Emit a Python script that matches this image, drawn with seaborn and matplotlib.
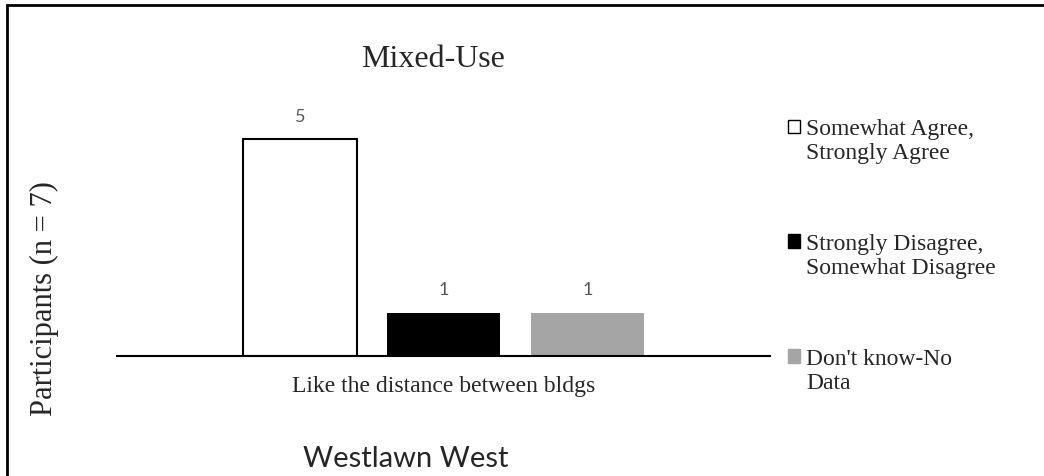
import matplotlib
matplotlib.use("Agg")
import matplotlib.pyplot as plt
import seaborn as sns
import pandas as pd
from matplotlib.patches import Patch, Rectangle
from matplotlib.legend_handler import HandlerPatch

# data
categories = ["Like the distance between bldgs"]
responses = ["Somewhat Agree,\nStrongly Agree",
             "Strongly Disagree,\nSomewhat Disagree",
             "Don't know-No\nData"]
counts = [5, 1, 1]
colors = ["#ffffff", "#000000", "#a5a5a5"]

df = pd.DataFrame({
    "question": categories * len(responses),
    "response": responses,
    "count": counts,
})

sns.set_style("white")
plt.rcParams["font.family"] = ["Liberation Serif", "DejaVu Serif"]

fig = plt.figure(figsize=(10.44, 4.77), dpi=100)
ax = fig.add_axes([0.112, 0.2516, 0.626, 0.546])

sns.barplot(data=df, x="question", y="count", hue="response",
            palette=colors, width=0.66, gap=0.21, legend=False, ax=ax,
            saturation=1)

# outline on the white bar only
bars = ax.patches
bars[0].set_edgecolor("black")
bars[0].set_linewidth(1.5)
for b in bars[1:]:
    b.set_edgecolor("none")

for c in ax.containers:
    ax.bar_label(c, padding=11, fontsize=13, color="#595959",
                 family=["Lato", "DejaVu Sans"])

ax.set_xlim(-0.5, 0.5)
ax.set_ylim(0, 6)
ax.set_yticks([])
ax.set_xlabel("")
ax.set_ylabel("")
ax.tick_params(axis="x", length=0, labelsize=17, pad=14)
for s in ["top", "right", "left"]:
    ax.spines[s].set_visible(False)
ax.spines["bottom"].set_color("black")
ax.spines["bottom"].set_linewidth(1.5)

fig.text(0.415, 0.875, "Mixed-Use", fontsize=23, ha="center", va="center")
fig.text(0.043, 0.374, "Participants (n = 7)", fontsize=22, rotation=90,
         ha="center", va="center")
fig.text(0.389, 0.038, "Westlawn West", fontsize=21, ha="center",
         va="center", family=["Lato", "DejaVu Sans"])


# legend square sits next to the first line of each label
def top_square(legend, orig_handle, xdescent, ydescent, width, height, fontsize):
    return Rectangle((-xdescent, -ydescent + 0.6 * fontsize), width, height)


handles = [Patch(facecolor=colors[i],
                 edgecolor="black" if i == 0 else colors[i],
                 linewidth=1.0) for i in range(3)]
leg = fig.legend(handles, responses, loc="upper left",
                 bbox_to_anchor=(0.755, 0.75), frameon=False, fontsize=17,
                 handlelength=0.5, handleheight=0.5, handletextpad=0.25,
                 labelspacing=2.95, borderpad=0, borderaxespad=0,
                 handler_map={Patch: HandlerPatch(patch_func=top_square)})
for t in leg.get_texts():
    t.set_linespacing(1.2)

# frame around the chart (bottom edge is cut off in the original)
fig.patches.append(Rectangle((0.007, -0.1), 1.2, 1.087,
                             transform=fig.transFigure, fill=False,
                             edgecolor="black", linewidth=2))

fig.savefig("out.png", dpi=100)
